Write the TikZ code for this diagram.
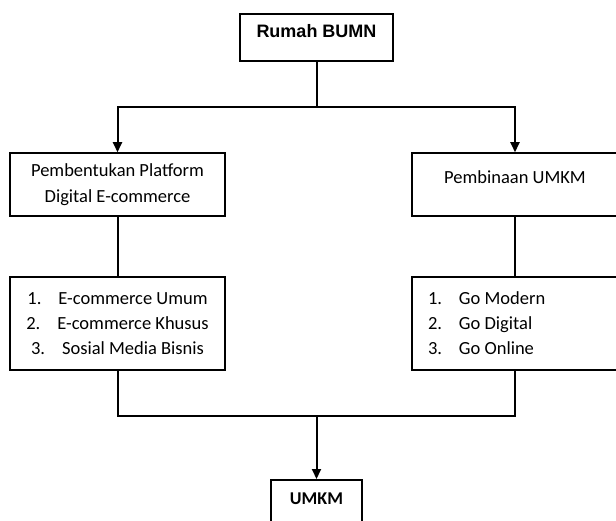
\documentclass[tikz,border=0pt]{standalone}
\usepackage{fontspec}
\setmainfont{Carlito}
\newfontfamily\arialfont{Liberation Sans}
\usetikzlibrary{arrows.meta}

\newcommand{\itemno}[1]{\makebox[31pt][l]{#1}}

\begin{document}
\begin{tikzpicture}[x=1pt, y=-1pt,
    box/.style={draw, line width=1.5pt, inner sep=0pt, font=\fontsize{18.5}{26}\selectfont},
    conn/.style={line width=2pt},
    arr/.style={conn, -{Triangle[length=10pt, width=9pt]}}]
    \useasboundingbox (0,0) rectangle (616,521);
    \node[box, minimum width=153pt, minimum height=47pt, text height=13pt, text depth=12pt, font=\arialfont\bfseries\fontsize{18}{22}\selectfont] (bumn) at (316.5,37.5) {Rumah BUMN};
    \node[box, minimum width=215pt, minimum height=63pt, align=center] (platform) at (117.5,184.5) {Pembentukan Platform\\Digital E-commerce};
    \node[box, minimum width=206pt, minimum height=63pt, text height=12pt, text depth=13pt] (pembinaan) at (515,184.5) {Pembinaan UMKM};
    \node[box, minimum width=215pt, minimum height=93pt, align=center, font=\fontsize{18.5}{25}\selectfont] (ecom) at (117.5,323.5) {\itemno{1.}E-commerce Umum\\\itemno{2.}E-commerce Khusus\\\itemno{3.}Sosial Media Bisnis};
    \node[box, minimum width=206pt, minimum height=93pt, text width=190pt, align=left, font=\fontsize{18.5}{25}\selectfont] (golist) at (515,323.5) {\spaceskip=0pt\relax
      \hspace*{8pt}\itemno{1.}Go Modern\\\hspace*{8pt}\itemno{2.}Go Digital\\\hspace*{8pt}\itemno{3.}Go Online};
    \node[box, anchor=north, minimum width=91pt, inner ysep=13pt, text height=12pt, text depth=40pt, font=\bfseries\fontsize{18}{22}\selectfont] (umkm) at (316.5,479) {UMKM};
    \coordinate (split) at (316.5,107);
    \coordinate (join) at (316.5,416);
    \draw[conn] (bumn) -- (split);
    \draw[arr] (split) -| (platform);
    \draw[arr] (split) -| (pembinaan);
    \draw[conn] (platform) -- (ecom);
    \draw[conn] (pembinaan) -- (golist);
    \draw[conn] (ecom) |- (join) -| (golist);
    \draw[arr] (join) -- (umkm);
\end{tikzpicture}
\end{document}
